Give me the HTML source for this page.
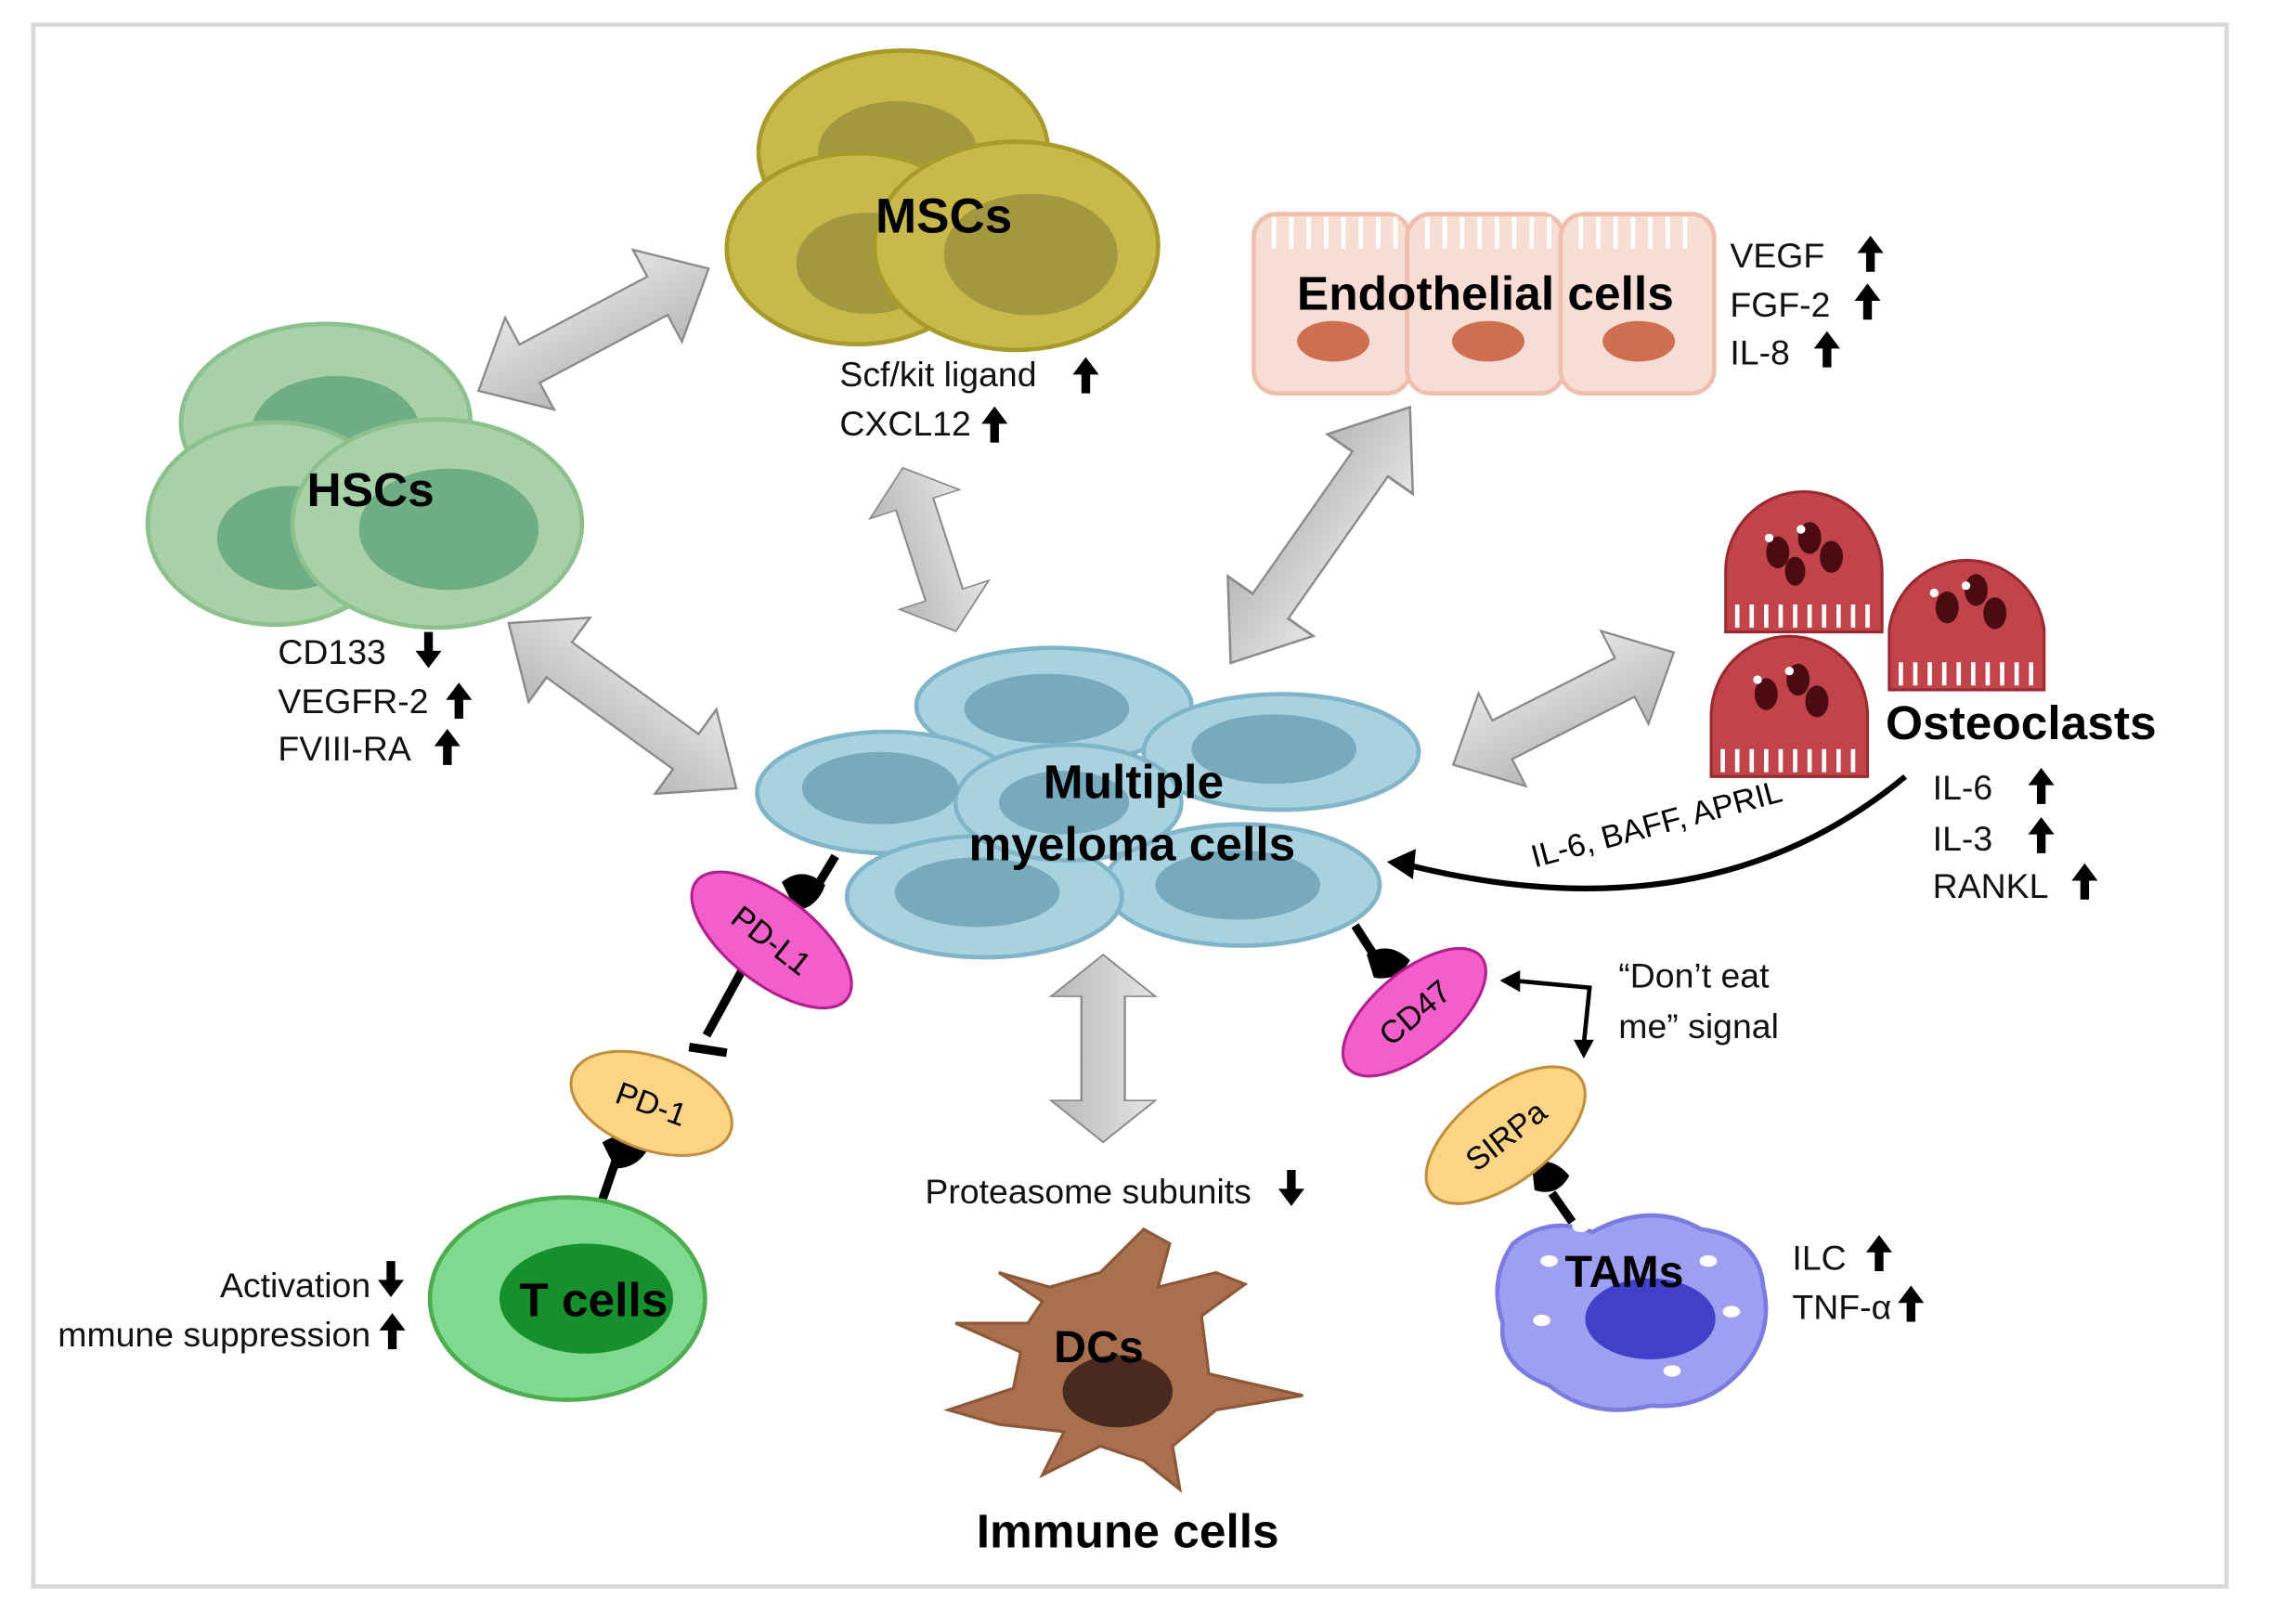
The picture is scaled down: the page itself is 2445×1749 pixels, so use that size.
<!DOCTYPE html>
<html><head><meta charset="utf-8"><style>
html,body{margin:0;padding:0;background:#fff;}
svg{display:block;}
text{font-family:"Liberation Sans",sans-serif;}
.b{font-weight:bold;fill:#000;}
.s{font-size:24px;fill:#111;}
</style></head><body>
<svg width="2445" height="1749" viewBox="0 0 1568 1123" preserveAspectRatio="none" xmlns="http://www.w3.org/2000/svg">
<defs>
<linearGradient id="ag" x1="0" y1="0" x2="0" y2="1"><stop offset="0" stop-color="#e4e4e4"/><stop offset="1" stop-color="#b8b8b8"/></linearGradient>
<polygon id="da" points="-90,0 -50,-36 -50,-15 50,-15 50,-36 90,0 50,36 50,15 -50,15 -50,36" fill="url(#ag)" stroke="#8a8a8a" stroke-width="1.5"/>
</defs>
<rect width="1568" height="1123" fill="#fff"/>
<rect x="23" y="17" width="1515" height="1080" fill="none" stroke="#d8d8d8" stroke-width="3"/>

<!-- arrows -->
<use href="#da" transform="translate(410,228) rotate(-28) scale(1.0,1)"/>
<use href="#da" transform="translate(430,488) rotate(36) scale(1.08,1)"/>
<use href="#da" transform="translate(642,380) rotate(72) scale(0.66,0.9)"/>
<use href="#da" transform="translate(912,370) rotate(125) scale(1.2,1)"/>
<use href="#da" transform="translate(1080,490) rotate(-27) scale(0.95,1)"/>
<use href="#da" transform="translate(762,725) rotate(90) scale(0.72,1)"/>

<!-- MSCs -->
<g stroke="#a89a2c" stroke-width="3">
<ellipse cx="624" cy="105" rx="100" ry="70" fill="#c8b94a"/>
<ellipse cx="620" cy="105" rx="55" ry="35" fill="#a39840" stroke="none"/>
<ellipse cx="592" cy="172" rx="90" ry="66" fill="#c8b94a"/>
<ellipse cx="600" cy="182" rx="50" ry="35" fill="#a39840" stroke="none"/>
<ellipse cx="702" cy="170" rx="98" ry="72" fill="#c8b94a"/>
<ellipse cx="712" cy="176" rx="60" ry="42" fill="#a39840" stroke="none"/>
</g>
<text x="652" y="161" class="b" font-size="34" text-anchor="middle">MSCs</text>
<text x="580" y="267" class="s">Scf/kit ligand</text>
<text x="580" y="301" class="s">CXCL12</text>

<!-- HSCs -->
<g stroke="#8cc08c" stroke-width="3">
<ellipse cx="225" cy="292" rx="100" ry="68" fill="#a9d1a9"/>
<ellipse cx="232" cy="298" rx="58" ry="38" fill="#6fae84" stroke="none"/>
<ellipse cx="190" cy="362" rx="88" ry="70" fill="#a9d1a9"/>
<ellipse cx="200" cy="372" rx="50" ry="36" fill="#6fae84" stroke="none"/>
<ellipse cx="302" cy="362" rx="100" ry="72" fill="#a9d1a9"/>
<ellipse cx="310" cy="366" rx="62" ry="42" fill="#6fae84" stroke="none"/>
</g>
<text x="256" y="350" class="b" font-size="33" text-anchor="middle">HSCs</text>
<text x="192" y="459" class="s">CD133</text>
<text x="192" y="493" class="s">VEGFR-2</text>
<text x="192" y="526" class="s">FVIII-RA</text>

<!-- Endothelial -->
<g stroke="#efbfae" stroke-width="3" fill="#f7ddd3">
<rect x="866" y="148" width="108" height="124" rx="16"/>
<rect x="972" y="148" width="108" height="124" rx="16"/>
<rect x="1078" y="148" width="106" height="124" rx="16"/>
</g>
<g stroke="#fff" stroke-width="3">
<path d="M880 150v22M892 150v22M904 150v22M916 150v22M928 150v22M940 150v22M952 150v22M964 150v22M986 150v22M998 150v22M1010 150v22M1022 150v22M1034 150v22M1046 150v22M1058 150v22M1070 150v22M1092 150v22M1104 150v22M1116 150v22M1128 150v22M1140 150v22M1152 150v22M1164 150v22"/>
</g>
<g fill="#cf6e50"><ellipse cx="921" cy="236" rx="25" ry="14"/><ellipse cx="1028" cy="236" rx="25" ry="14"/><ellipse cx="1132" cy="236" rx="25" ry="14"/></g>
<text x="1026" y="214" class="b" font-size="33" text-anchor="middle">Endothelial cells</text>
<text x="1195" y="185" class="s">VEGF</text>
<text x="1195" y="219" class="s">FGF-2</text>
<text x="1195" y="252" class="s">IL-8</text>

<!-- Osteoclasts -->
<g fill="#c0444a" stroke="#9a2a30" stroke-width="2">
<path d="M1192 437 L1192 395 A54 55 0 0 1 1300 395 L1300 437 Z"/>
<path d="M1305 477 L1305 435 A54 55 0 0 1 1412 435 L1412 477 Z"/>
<path d="M1182 537 L1182 495 A54 55 0 0 1 1290 495 L1290 537 Z"/>
</g>
<g stroke="#fff" stroke-width="3">
<path d="M1200 418v16M1210 418v16M1220 418v16M1230 418v16M1240 418v16M1250 418v16M1260 418v16M1270 418v16M1280 418v16M1290 418v16"/>
<path d="M1313 458v16M1323 458v16M1333 458v16M1343 458v16M1353 458v16M1363 458v16M1373 458v16M1383 458v16M1393 458v16M1403 458v16"/>
<path d="M1190 518v16M1200 518v16M1210 518v16M1220 518v16M1230 518v16M1240 518v16M1250 518v16M1260 518v16M1270 518v16M1280 518v16"/>
</g>
<g fill="#4a0c10">
<ellipse cx="1228" cy="382" rx="8" ry="11"/><ellipse cx="1250" cy="372" rx="8" ry="11"/><ellipse cx="1265" cy="385" rx="8" ry="11"/><ellipse cx="1240" cy="395" rx="7" ry="10"/>
<ellipse cx="1345" cy="420" rx="8" ry="11"/><ellipse cx="1365" cy="408" rx="8" ry="11"/><ellipse cx="1378" cy="424" rx="8" ry="11"/>
<ellipse cx="1220" cy="480" rx="8" ry="11"/><ellipse cx="1242" cy="470" rx="8" ry="11"/><ellipse cx="1255" cy="485" rx="8" ry="11"/>
</g>
<g fill="#fff"><circle cx="1222" cy="372" r="3"/><circle cx="1244" cy="366" r="3"/><circle cx="1336" cy="410" r="3"/><circle cx="1358" cy="405" r="3"/><circle cx="1214" cy="470" r="3"/><circle cx="1236" cy="464" r="3"/></g>
<text x="1396" y="511" class="b" font-size="33" text-anchor="middle">Osteoclasts</text>
<text x="1335" y="553" class="s">IL-6</text>
<text x="1335" y="588" class="s">IL-3</text>
<text x="1335" y="621" class="s">RANKL</text>

<!-- up/down arrows -->
<g fill="#000">
<path id="up" d="M0 -12 L9 0 L3 0 L3 13 L-3 13 L-3 0 L-9 0 Z" transform="translate(1292,175)"/>
<use href="#up" transform="translate(-2,33)"/>
<use href="#up" transform="translate(-30,66)"/>
<use href="#up" transform="translate(-542,84)"/>
<use href="#up" transform="translate(-605,118)"/>
<use href="#up" transform="translate(-975,309)"/>
<use href="#up" transform="translate(-983,341)"/>
<use href="#up" transform="translate(118,368)"/>
<use href="#up" transform="translate(118,402)"/>
<use href="#up" transform="translate(148,434)"/>
<use href="#up" transform="translate(6,691)"/>
<use href="#up" transform="translate(28,726)"/>
<use href="#up" transform="translate(-1021,745)"/>
<path d="M0 12 L9 0 L3 0 L3 -13 L-3 -13 L-3 0 L-9 0 Z" transform="translate(296,450)"/>
<path d="M0 12 L9 0 L3 0 L3 -13 L-3 -13 L-3 0 L-9 0 Z" transform="translate(892,822)"/>
<path d="M0 12 L9 0 L3 0 L3 -13 L-3 -13 L-3 0 L-9 0 Z" transform="translate(270,885)"/>
</g>

<!-- MM cells -->
<g fill="#a9d2e0" stroke="#80b4c8" stroke-width="3">
<ellipse cx="728" cy="488" rx="95" ry="40"/>
<ellipse cx="885" cy="520" rx="95" ry="40"/>
<ellipse cx="613" cy="548" rx="90" ry="42"/>
<ellipse cx="858" cy="612" rx="95" ry="42"/>
<ellipse cx="680" cy="620" rx="95" ry="42"/>
<ellipse cx="738" cy="555" rx="78" ry="40"/>
</g>
<g fill="#77aabd">
<ellipse cx="723" cy="490" rx="57" ry="24"/><ellipse cx="880" cy="518" rx="57" ry="24"/><ellipse cx="608" cy="545" rx="54" ry="25"/>
<ellipse cx="855" cy="612" rx="57" ry="24"/><ellipse cx="675" cy="617" rx="57" ry="24"/><ellipse cx="735" cy="555" rx="45" ry="22"/>
</g>
<text x="783" y="552" class="b" font-size="33" text-anchor="middle">Multiple</text>
<text x="782" y="595" class="b" font-size="33" text-anchor="middle">myeloma cells</text>

<!-- IL-6 curved arrow -->
<path d="M1316 537 Q1180 650 972 598" fill="none" stroke="#000" stroke-width="4"/>
<path d="M958 596 L978 587 L976 608 Z" fill="#000"/>
<text x="1060" y="600" font-size="22" transform="rotate(-15 1060 600)">IL-6, BAFF, APRIL</text>

<!-- PD-L1 / PD-1 / T cells -->
<g stroke="#000" stroke-width="6"><line x1="577" y1="592" x2="557" y2="625"/><line x1="512" y1="672" x2="488" y2="716"/><line x1="476" y1="724" x2="502" y2="728" /><line x1="428" y1="795" x2="416" y2="830"/></g>
<path d="M540 610 q15 -12 30 2 q-5 15 -20 18 z" fill="#000"/>
<path d="M416 790 q15 -10 34 0 q-8 18 -25 18 z" fill="#000"/>
<ellipse cx="533" cy="650" rx="66" ry="30" fill="#f25fca" stroke="#b02090" stroke-width="2" transform="rotate(38 533 650)"/>
<text x="533" y="658" font-size="22" text-anchor="middle" transform="rotate(38 533 650)">PD-L1</text>
<ellipse cx="450" cy="763" rx="58" ry="32" fill="#fdd486" stroke="#c09040" stroke-width="2" transform="rotate(20 450 763)"/>
<text x="450" y="771" font-size="22" text-anchor="middle" transform="rotate(20 450 763)">PD-1</text>
<ellipse cx="392" cy="898" rx="95" ry="70" fill="#7fd98f" stroke="#4cae50" stroke-width="3"/>
<ellipse cx="405" cy="898" rx="60" ry="38" fill="#16902c"/>
<text x="410" y="910" class="b" font-size="33" text-anchor="middle">T cells</text>
<text x="256" y="897" class="s" text-anchor="end">Activation</text>
<text x="256" y="931" class="s" text-anchor="end">mmune suppression</text>

<!-- CD47 / SIRPa / TAMs -->
<g stroke="#000" stroke-width="6"><line x1="936" y1="640" x2="952" y2="665"/><line x1="1072" y1="825" x2="1086" y2="845"/></g>
<path d="M944 660 q15 -10 30 4 q-8 15 -25 12 z" fill="#000"/>
<path d="M1058 805 q14 -6 26 8 q-8 15 -24 10 z" fill="#000"/>
<ellipse cx="977" cy="700" rx="60" ry="28" fill="#f25fca" stroke="#b02090" stroke-width="2" transform="rotate(-40 977 700)"/>
<text x="977" y="708" font-size="22" text-anchor="middle" transform="rotate(-40 977 700)">CD47</text>
<ellipse cx="1040" cy="785" rx="65" ry="32" fill="#fdd486" stroke="#c09040" stroke-width="2" transform="rotate(-38 1040 785)"/>
<text x="1040" y="793" font-size="22" text-anchor="middle" transform="rotate(-38 1040 785)">SIRPa</text>
<path d="M1045 678 L1098 683 L1094 722" fill="none" stroke="#000" stroke-width="3"/>
<path d="M1036 678 L1050 671 L1050 686 Z M1094 732 L1087 719 L1101 719 Z" fill="#000"/>
<text x="1118" y="683" class="s">“Don’t eat</text>
<text x="1118" y="718" class="s">me” signal</text>
<path d="M1045 860 Q1070 840 1100 852 Q1140 830 1175 850 Q1215 855 1218 890 Q1225 920 1205 945 Q1180 975 1140 972 Q1100 982 1070 958 Q1035 945 1038 915 Q1028 885 1045 860 Z" fill="#9f9ff2" stroke="#7c7ce0" stroke-width="3"/>
<ellipse cx="1140" cy="912" rx="45" ry="28" fill="#4040c8"/>
<g fill="#fff"><ellipse cx="1070" cy="872" rx="6" ry="4"/><ellipse cx="1180" cy="872" rx="6" ry="4"/><ellipse cx="1196" cy="907" rx="6" ry="4"/><ellipse cx="1155" cy="948" rx="6" ry="4"/><ellipse cx="1065" cy="913" rx="6" ry="4"/><ellipse cx="1092" cy="848" rx="6" ry="4"/></g>
<text x="1122" y="890" class="b" font-size="31" text-anchor="middle">TAMs</text>
<text x="1238" y="878" class="s">ILC</text>
<text x="1238" y="912" class="s">TNF-α</text>

<!-- DCs -->
<path d="M720 900 L690 880 L725 890 L760 880 L790 850 L808 860 L800 890 L840 880 L860 888 L830 910 L835 950 L900 965 L840 975 L810 1000 L815 1030 L790 1010 L760 1000 L720 1020 L735 990 L690 985 L655 975 L700 960 L705 935 L660 915 L710 915 Z" fill="#a9704f" stroke="#8c5838" stroke-width="2"/>
<ellipse cx="772" cy="962" rx="38" ry="25" fill="#4a2a1e"/>
<text x="759" y="942" class="b" font-size="31" text-anchor="middle">DCs</text>
<text x="639" y="832" class="s">Proteasome subunits</text>
<text x="779" y="1070" class="b" font-size="33" text-anchor="middle">Immune cells</text>
</svg>
</body></html>
